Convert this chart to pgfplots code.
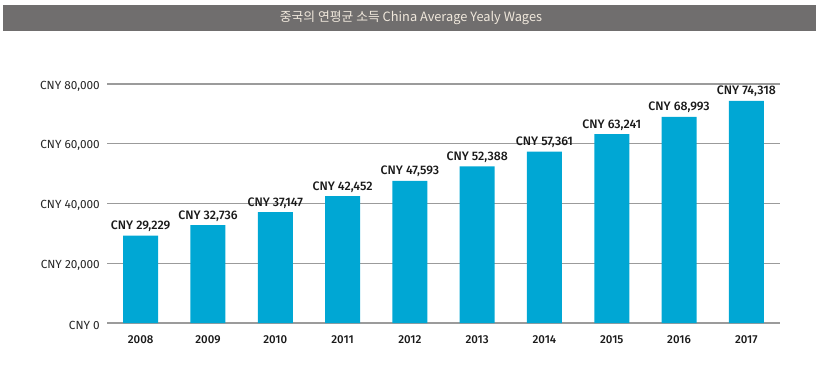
\documentclass[border=0pt]{standalone}
\usepackage{pgfplots}
\pgfplotsset{compat=1.18}
\usepackage{fontspec}
\setmainfont{Fira Sans}[BoldFont={Fira Sans Medium}]
\newfontfamily\cjk{Noto Sans CJK KR}
\definecolor{barc}{RGB}{0,167,212}
\definecolor{titlebg}{RGB}{112,110,110}
\definecolor{titlefg}{RGB}{240,232,220}
\definecolor{gridc}{RGB}{155,155,155}
\begin{document}
\begin{tikzpicture}[x=1bp,y=1bp]
\path[use as bounding box] (0,0) rectangle (820,379);
\fill[titlebg] (3,379-31) rectangle (816,379-5);
\node[text=titlefg, font=\cjk\fontsize{12.8bp}{14bp}\selectfont] at (411,379-18) {중국의 연평균 소득 China Average Yealy Wages};
\coordinate (A) at (107,56);
\begin{axis}[
  at={(A)}, anchor=south west,
  scale only axis, width=673bp, height=239bp,
  xmin=-0.5, xmax=9.5, ymin=0, ymax=80000,
  xtick=data,
  xticklabels={2008,2009,2010,2011,2012,2013,2014,2015,2016,2017},
  ytick={0,20000,40000,60000,80000},
  axis line style={draw=none},
  tick style={draw=none},
  ymajorgrids, grid style={gridc, line width=1.4bp},
  /pgf/number format/assume math mode=true,
  /pgf/number format/1000 sep={,},
  scaled y ticks=false,
  yticklabel={CNY \pgfmathprintnumber{\tick}},
  yticklabel style={font=\fontsize{11.8bp}{13bp}\selectfont, text=black!85, inner sep=0pt, anchor=east, xshift=-7bp, yshift=-2bp},
  xticklabel style={font=\fontsize{11.5bp}{13bp}\selectfont\bfseries, text=black!90, inner sep=0pt, anchor=base, yshift=-20bp},
  nodes near coords={CNY \pgfmathprintnumber{\pgfplotspointmeta}},
  nodes near coords style={font=\fontsize{12.3bp}{13bp}\selectfont\bfseries, text=black!90, inner sep=0pt, anchor=base, yshift=6bp},
  every node near coord/.append style={/pgf/number format/fixed, /pgf/number format/precision=0},
]
\addplot[ybar, bar width=0.52, fill=barc, draw=none] coordinates {
(0,29229) (1,32736) (2,37147) (3,42452) (4,47593) (5,52388) (6,57361) (7,63241) (8,68993) (9,74318)};
\end{axis}
\end{tikzpicture}
\end{document}
